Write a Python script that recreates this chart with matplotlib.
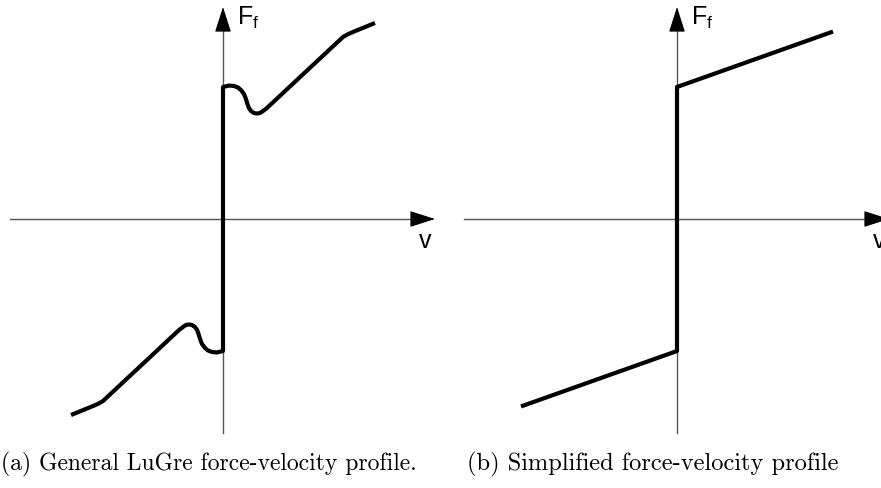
import numpy as np
import matplotlib
matplotlib.use("Agg")
import matplotlib.pyplot as plt

plt.rcParams['mathtext.fontset'] = 'custom'
plt.rcParams['mathtext.rm'] = 'Liberation Sans'
plt.rcParams['mathtext.it'] = 'Liberation Sans'

# velocity / friction force, positive-velocity branch (Fs = 1)
lugre_v = [0.0, 0.04, 0.073, 0.10, 0.12, 0.14, 0.153, 0.163, 0.173, 0.187,
           0.207, 0.227, 0.247, 0.267, 0.293, 0.80, 0.833, 0.867, 1.013]
lugre_f = [1.0, 1.011, 1.008, 0.996, 0.977, 0.947, 0.909, 0.871, 0.841, 0.818,
           0.803, 0.799, 0.803, 0.818, 0.841, 1.379, 1.40, 1.417, 1.485]

simple_v = [0.0, 1.04]
simple_f = [1.0, 1.42]

captions = ["(a) General LuGre force-velocity profile.",
            "(b) Simplified force-velocity profile"]

W, H = 881, 488
sx, sy = 150.0, 132.0   # pixels per unit

fig = plt.figure(figsize=(W / 100, H / 100), dpi=100)


def panel(x0, x1, ox, v, f):
    ax = fig.add_axes([x0 / W, 0, (x1 - x0) / W, 1])
    ax.set_xlim((x0 - ox) / sx, (x1 - ox) / sx)
    ax.set_ylim(-(H - 219) / sy, 219 / sy)
    ax.axis('off')
    xe, yt = 212 / sx, 212 / sy
    # axis lines
    ax.plot([-213 / sx, xe - 10 / sx], [0, 0], color='#555555', lw=1.0,
            clip_on=False)
    ax.plot([0, 0], [-214 / sy, yt - 10 / sy], color='#555555', lw=1.0,
            clip_on=False)
    # arrow heads
    ap = dict(arrowstyle='-|>,head_length=1.0,head_width=0.32', lw=0.8,
              color='black', mutation_scale=16, shrinkA=0, shrinkB=0)
    ax.annotate('', xy=(xe, 0), xytext=(xe - 17 / sx, 0),
                arrowprops=ap, annotation_clip=False)
    ax.annotate('', xy=(0, yt), xytext=(0, yt - 17 / sy),
                arrowprops=ap, annotation_clip=False)
    ax.text(14 / sx, 201 / sy, r'$\mathrm{F_f}$', fontsize=18,
            va='center', ha='left')
    ax.text(202 / sx, -22 / sy, 'v', fontsize=18, family='Liberation Sans',
            va='center', ha='center', clip_on=False)

    v = np.array(v)
    f = np.array(f)
    # odd-symmetric profile: negative branch, jump at v = 0, positive branch
    xs = np.concatenate([-v[::-1], v])
    ys = np.concatenate([-f[::-1], f])
    ax.plot(xs, ys, color='black', lw=3.0, solid_joinstyle='round',
            solid_capstyle='butt', clip_on=False)
    return ax


panel(0, 440, 223, lugre_v, lugre_f)
panel(440, 881, 677, simple_v, simple_f)

fig.text(1 / W, 1 - 464 / H, captions[0], family='cmr10', fontsize=17.0,
         ha='left', va='center')
fig.text(467 / W, 1 - 464 / H, captions[1], family='cmr10', fontsize=17.6,
         ha='left', va='center')

fig.savefig('out.png', dpi=100)
